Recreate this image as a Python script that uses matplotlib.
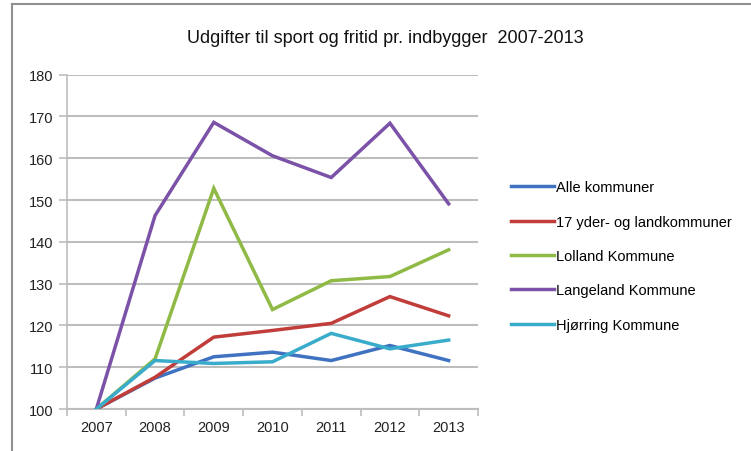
import matplotlib
matplotlib.use('Agg')
import matplotlib.pyplot as plt
from matplotlib.lines import Line2D

plt.rcParams['font.family'] = ['Liberation Sans', 'DejaVu Sans']

# ── Data ──────────────────────────────────────────────────────────────────────
years = ['2007', '2008', '2009', '2010', '2011', '2012', '2013']
alle = [100, 107.4, 112.5, 113.6, 111.6, 115.2, 111.6]
yder = [100, 107.6, 117.2, 118.8, 120.5, 126.9, 122.3]
lolland = [100, 112.0, 152.8, 123.8, 130.7, 131.7, 138.1]
langeland = [100, 146.3, 168.6, 160.6, 155.4, 168.4, 149.1]
hjorring = [100, 111.6, 110.9, 111.3, 118.1, 114.4, 116.5]

series_names = ['Alle kommuner', '17 yder- og landkommuner', 'Lolland Kommune',
                'Langeland Kommune', 'Hjørring Kommune']
series = [alle, yder, lolland, langeland, hjorring]
colors = ['#3f72c0', '#c03d3a', '#8fba45', '#7b52a8', '#3aaccb']

GRID = '#bdbdbd'

fig = plt.figure(figsize=(7.51, 4.52), dpi=100, facecolor='white')
ax = fig.add_axes([0.0892, 0.0929, 0.5473, 0.7396])

x = list(range(len(years)))
for vals, col, name in zip(series, colors, series_names):
    ax.plot(x, vals, color=col, linewidth=2.5, label=name,
            solid_joinstyle='miter', zorder=3)

ax.set_xlim(-0.5, len(years) - 0.5)
ax.set_ylim(100, 180)
ax.set_yticks(range(100, 181, 10))
ax.set_xticks(x)
ax.set_xticklabels(years)
ax.set_xticks([i - 0.5 for i in range(len(years) + 1)], minor=True)
ax.tick_params(axis='x', which='major', length=0, pad=8, labelsize=10.5,
               colors='#222222')
ax.tick_params(axis='x', which='minor', length=5, color=GRID, width=1.2)
ax.tick_params(axis='y', length=6, color=GRID, width=1.2, pad=4,
               labelsize=10.5, colors='#222222')

ax.grid(axis='y', color=GRID, linewidth=1.5, zorder=0)
for side in ['top', 'right']:
    ax.spines[side].set_visible(False)
ax.spines['left'].set_color(GRID)
ax.spines['left'].set_linewidth(1.2)
ax.spines['bottom'].set_color(GRID)
ax.spines['bottom'].set_linewidth(1.5)

fig.text(0.513, 0.915, 'Udgifter til sport og fritid pr. indbygger  2007-2013',
         ha='center', va='center', fontsize=13, color='#111111')

handles = [Line2D([0], [0], color=c, linewidth=2.5) for c in colors]
fig.legend(handles, series_names, loc='upper left',
           bbox_to_anchor=(0.672, 0.612), frameon=False, fontsize=10.5,
           handlelength=3.0, handletextpad=0.15, labelspacing=1.4,
           borderaxespad=0)

# chart frame
fig.add_artist(Line2D([0.016, 0.016], [0.0, 0.989], color='#909090',
                      linewidth=1.5, transform=fig.transFigure))
fig.add_artist(Line2D([0.016, 1.0], [0.989, 0.989], color='#909090',
                      linewidth=1.5, transform=fig.transFigure))

fig.savefig('out.png', dpi=100, facecolor='white')
